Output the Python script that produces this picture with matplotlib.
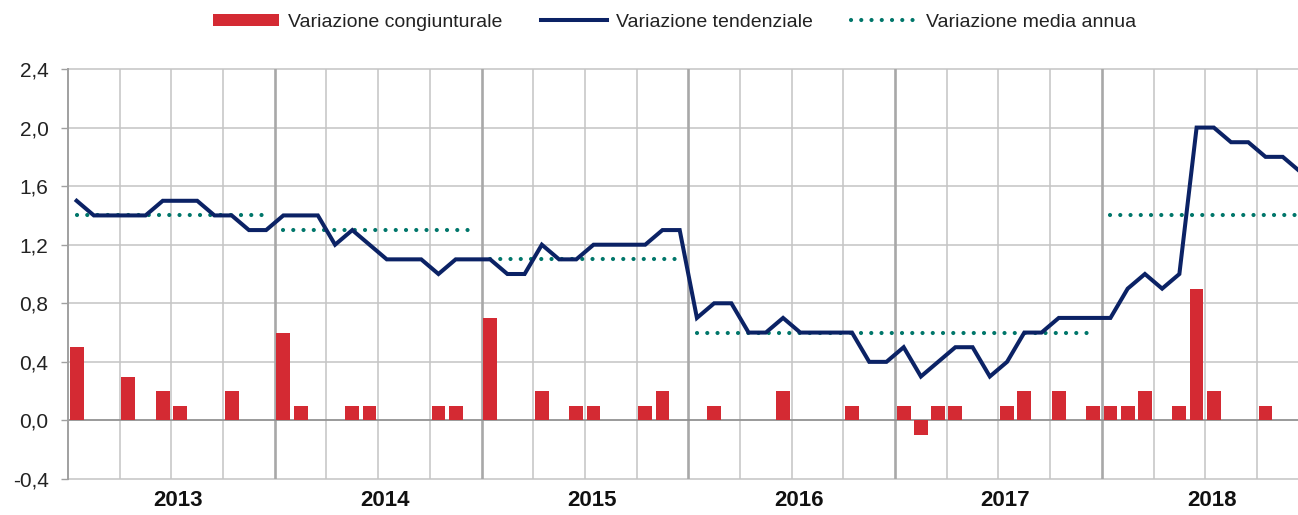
import numpy as np
import matplotlib
matplotlib.use("Agg")
import matplotlib.pyplot as plt
from matplotlib.lines import Line2D
from matplotlib.patches import Patch

plt.rcParams["font.family"] = ["Liberation Sans", "DejaVu Sans"]

# monthly data Jan 2013 - Dec 2018
years = ["2013", "2014", "2015", "2016", "2017", "2018"]
tendenziale = [
    1.5, 1.4, 1.4, 1.4, 1.4, 1.5, 1.5, 1.5, 1.4, 1.4, 1.3, 1.3,   # 2013
    1.4, 1.4, 1.4, 1.2, 1.3, 1.2, 1.1, 1.1, 1.1, 1.0, 1.1, 1.1,   # 2014
    1.1, 1.0, 1.0, 1.2, 1.1, 1.1, 1.2, 1.2, 1.2, 1.2, 1.3, 1.3,   # 2015
    0.7, 0.8, 0.8, 0.6, 0.6, 0.7, 0.6, 0.6, 0.6, 0.6, 0.4, 0.4,   # 2016
    0.5, 0.3, 0.4, 0.5, 0.5, 0.3, 0.4, 0.6, 0.6, 0.7, 0.7, 0.7,   # 2017
    0.7, 0.9, 1.0, 0.9, 1.0, 2.0, 2.0, 1.9, 1.9, 1.8, 1.8, 1.7,   # 2018
]
congiunturale = [
    0.5, 0.0, 0.0, 0.3, 0.0, 0.2, 0.1, 0.0, 0.0, 0.2, 0.0, 0.0,
    0.6, 0.1, 0.0, 0.0, 0.1, 0.1, 0.0, 0.0, 0.0, 0.1, 0.1, 0.0,
    0.7, 0.0, 0.0, 0.2, 0.0, 0.1, 0.1, 0.0, 0.0, 0.1, 0.2, 0.0,
    0.0, 0.1, 0.0, 0.0, 0.0, 0.2, 0.0, 0.0, 0.0, 0.1, 0.0, 0.0,
    0.1, -0.1, 0.1, 0.1, 0.0, 0.0, 0.1, 0.2, 0.0, 0.2, 0.0, 0.1,
    0.1, 0.1, 0.2, 0.0, 0.1, 0.9, 0.2, 0.0, 0.0, 0.1, 0.0, 0.0,
]
media_annua = [1.4, 1.3, 1.1, 0.6, 0.6, 1.4]

RED = "#D42A33"
NAVY = "#0B2265"
TEAL = "#00766A"
DOTS = (0, (0.01, 2.45))

months = np.arange(len(tendenziale))

fig = plt.figure(figsize=(12.98, 5.15), dpi=100)
# axes run slightly past the right edge of the picture (Dec 2018 is cut)
ax = fig.add_axes([68 / 1298, 36 / 515, 1240.6 / 1298, 410 / 515])
ax.set_xlim(-0.5, 71.5)
ax.set_ylim(-0.4, 2.4)

# grid
yt = np.arange(-0.4, 2.41, 0.4)
for v in yt:
    ax.axhline(v, color="#C4C4C4", lw=1.1, zorder=0, clip_on=False)
for q in np.arange(2.5, 71, 3):
    if (q + 0.5) % 12 == 0:
        ax.axvline(q, color="#A8A8A8", lw=1.9, zorder=0.5)
    else:
        ax.axvline(q, color="#C4C4C4", lw=1.1, zorder=0)
ax.axhline(0, color="#8C8C8C", lw=1.1, zorder=1)

ax.bar(months, congiunturale, width=0.8, color=RED, zorder=2)
ax.plot(months, tendenziale, color=NAVY, lw=2.9, zorder=4,
        solid_joinstyle="miter")

# annual averages: consecutive equal years drawn as one dotted run
k = 0
while k < len(media_annua):
    j = k
    while j + 1 < len(media_annua) and media_annua[j + 1] == media_annua[k]:
        j += 1
    ax.plot([12 * k, 12 * j + 11], [media_annua[k]] * 2, color=TEAL, lw=3.0,
            linestyle=DOTS, dash_capstyle="round", zorder=3)
    k = j + 1

for s in ["top", "right", "bottom"]:
    ax.spines[s].set_visible(False)
ax.spines["left"].set_color("#A0A0A0")
ax.spines["left"].set_linewidth(1.4)
ax.spines["left"].set_zorder(1.5)

ax.set_yticks(yt)
ax.set_yticklabels([f"{v:.1f}".replace(".", ",").replace("-0,0", "0,0") for v in yt],
                   fontsize=15, color="#222222")
ax.tick_params(axis="y", length=5, width=1, color="#A0A0A0", pad=9)
ax.set_xticks([])

for k, y in enumerate(years):
    ax.text(12 * k + 5.9, -0.052, y, transform=ax.get_xaxis_transform(),
            ha="center", va="center", fontsize=16, fontweight="bold",
            color="#111111")

handles = [
    Patch(facecolor=RED, edgecolor="none"),
    Line2D([], [], color=NAVY, lw=2.9),
    Line2D([], [], color=TEAL, lw=3.0, linestyle=DOTS, dash_capstyle="round"),
]
labels = ["Variazione congiunturale", "Variazione tendenziale",
          "Variazione media annua"]
fig.legend(handles, labels, loc="center", bbox_to_anchor=(0.5197, 0.957),
           ncol=3, frameon=False, fontsize=14, handlelength=3.4,
           handleheight=0.6, handletextpad=0.45, columnspacing=2.0,
           labelcolor="#222222")

fig.savefig("out.png", dpi=100)
